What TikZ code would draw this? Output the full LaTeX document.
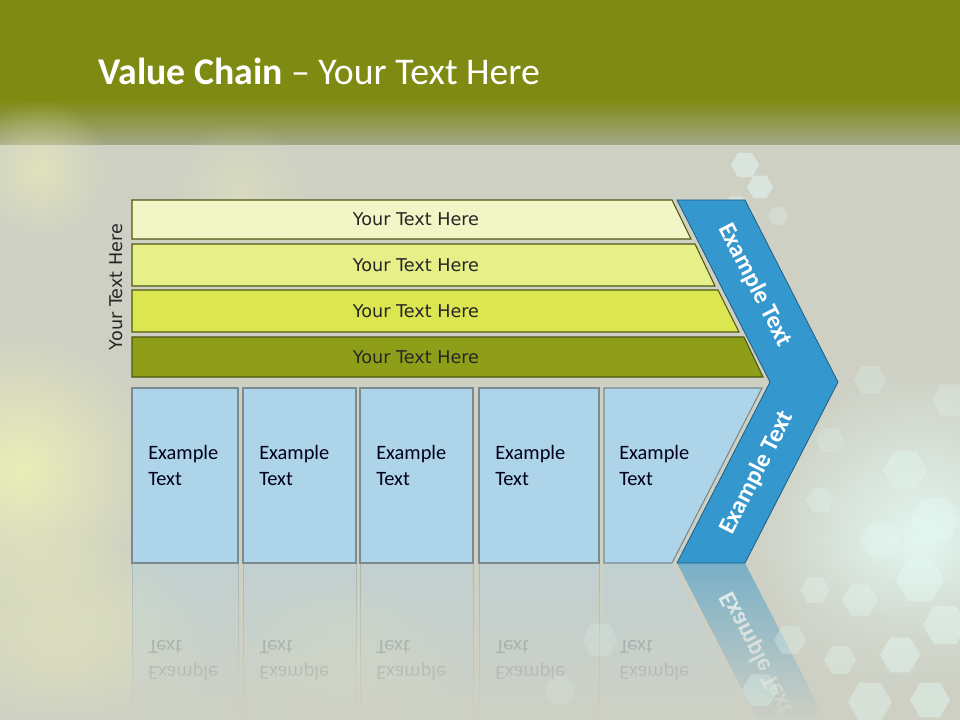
\documentclass[tikz,border=0pt]{standalone}
\usepackage{fontspec}
\setmainfont{Carlito}
\newfontfamily\barfont{DejaVu Sans}
\usetikzlibrary{fadings}

\tikzfading[name=glowfade, inner color=transparent!0, outer color=transparent!100]

\definecolor{topolive}{HTML}{7F8A13}
\definecolor{fadeolive}{HTML}{A3A888}
\definecolor{bggrey}{HTML}{CED0C4}
\definecolor{glowyellow}{HTML}{F1F5B4}
\definecolor{hexcyan}{HTML}{E4FAF4}
\definecolor{barA}{HTML}{F2F6C6}
\definecolor{barB}{HTML}{E6EF88}
\definecolor{barC}{HTML}{DBE651}
\definecolor{barD}{HTML}{8F9E19}
\definecolor{baredge}{HTML}{4E5712}
\definecolor{chevblue}{HTML}{3497CD}
\definecolor{chevedge}{HTML}{1E5E85}
\definecolor{boxblue}{HTML}{AED4EA}
\definecolor{boxedge}{HTML}{7B8A8E}

\begin{document}
\begin{tikzpicture}[x=0.75pt, y=-0.75pt,
    bar/.style={draw=baredge, line width=0.8pt},
    bartext/.style={text=black!85, font=\barfont\fontsize{13.2}{15}\selectfont},
    box/.style={fill=boxblue, draw=boxedge, line width=0.8pt},
    boxtext/.style={anchor=west, inner sep=0pt, align=left, text=black!90!blue,
      font=\fontsize{15.3}{19.5}\selectfont},
    chevron/.style={fill=chevblue, draw=chevedge, line width=0.6pt},
    chevtext/.style={text=white, font=\bfseries\fontsize{18.5}{22}\selectfont},
    glow/.style={fill=glowyellow, path fading=glowfade}]

  \useasboundingbox (0,0) rectangle (960,720);

  % === Background: olive header over a grey field ===
  \fill[bggrey] (0,0) rectangle (960,720);
  \fill[topolive] (0,0) rectangle (960,100);
  \shade[top color=topolive, bottom color=fadeolive] (0,100) rectangle (960,145);

  % soft yellow light at the left and bottom
  \fill[glow, opacity=0.8] (20,470) circle (140);
  \fill[glow, opacity=1] (60,690) circle (160);
  \fill[glow, opacity=0.8] (340,715) circle (130);
  \fill[glow, opacity=0.5] (40,170) circle (70);
  \fill[glow, opacity=0.3] (240,190) circle (70);
  \fill[hexcyan, path fading=glowfade, opacity=0.9] (920,540) circle (170);

  % === Reflection of the lower row (mirrored about y=563) ===
  \begin{scope}[shift={(0,1126)}, yscale=-1, transform shape]
    \foreach \lx/\rx in {132/238, 243/356, 360/473, 479/599} {
      \fill[boxblue, opacity=0.35] (\lx,388) rectangle (\rx,563);
      \draw[boxedge, opacity=0.35] (\lx,388) rectangle (\rx,563);
      \node[boxtext, opacity=0.3] at (\lx+16,465) {Example\\Text};
    }
    \fill[boxblue, opacity=0.35] (604,388) -- (762,388) -- (672,563) -- (604,563) -- cycle;
    \node[boxtext, opacity=0.3] at (619,465) {Example\\Text};
    \fill[chevblue, opacity=0.55] (770,382) -- (838,382) -- (745,563) -- (677,563) -- cycle;
    \node[chevtext, rotate=63, opacity=0.8] at (757,473) {Example Text};
  \end{scope}
  \fill[bggrey, path fading=north] (0,563) rectangle (960,722);

  % cyan hexagon bokeh on the right
  \foreach \hx/\hy/\hr/\op in {745/165/14/0.5, 760/187/13/0.5, 736/207/12/0.4,
      778/216/10/0.3, 870/380/16/0.25, 905/470/22/0.35, 935/520/25/0.4,
      880/540/20/0.35, 920/580/24/0.45, 860/600/18/0.35, 945/625/22/0.45,
      900/655/20/0.45, 840/660/16/0.35, 870/702/22/0.4, 930/700/20/0.45,
      790/640/16/0.3, 760/690/18/0.3, 600/640/18/0.2, 560/690/16/0.15,
      820/500/14/0.25, 950/400/18/0.25, 830/440/14/0.2, 815/590/15/0.3} {
    \fill[hexcyan, opacity=\op] (\hx,\hy) +(0:\hr) -- +(60:\hr) -- +(120:\hr)
      -- +(180:\hr) -- +(240:\hr) -- +(300:\hr) -- cycle;
  }

  % === Title ===
  \node[anchor=base west, inner sep=0pt, text=white,
    font=\fontsize{28.3}{32}\selectfont] (title) at (98,85)
    {\textbf{Value Chain} – Your Text Here};

  % === Four support bars, cut along the chevron slope ===
  \foreach \tp/\bt/\tr/\br/\col/\name in {200/239/672/691/barA/one,
      244/286/695/715/barB/two, 290/332/718/739/barC/three,
      337/377/744/763/barD/four} {
    \pgfmathsetmacro{\ymid}{(\tp+\bt)/2}
    \filldraw[bar, fill=\col] (132,\tp) -- (\tr,\tp) -- (\br,\bt) -- (132,\bt) -- cycle;
    \node[bartext] (bar\name) at (416,\ymid) {Your Text Here};
  }
  \node[bartext, rotate=90] (sidelabel) at (116,287) {Your Text Here};

  % === Primary activity boxes ===
  \foreach \lx/\rx/\name in {132/238/a, 243/356/b, 360/473/c, 479/599/d} {
    \draw[box] (\lx,388) rectangle (\rx,563);
    \node[boxtext] (txt\name) at (\lx+16,465) {Example\\Text};
  }
  \draw[box] (604,388) -- (762,388) -- (672,563) -- (604,563) -- cycle;
  \node[boxtext] (txte) at (619,465) {Example\\Text};

  % === Margin chevron ===
  \draw[chevron] (677,200) -- (745,200) -- (838,382) -- (745,563) -- (677,563)
    -- (770,382) -- cycle;
  \node[chevtext, rotate=-63] (chevtop) at (755,285) {Example Text};
  \node[chevtext, rotate=63] (chevbottom) at (757,473) {Example Text};

\end{tikzpicture}
\end{document}
